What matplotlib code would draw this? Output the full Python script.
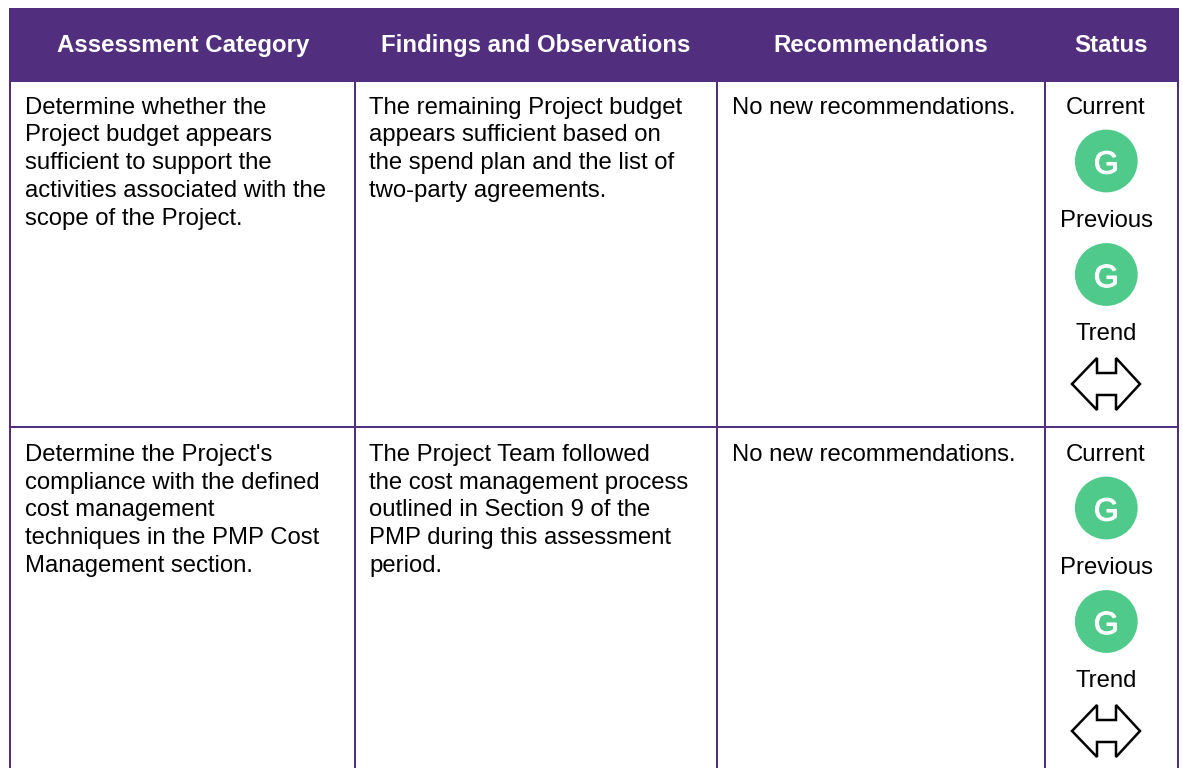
import matplotlib
matplotlib.use('Agg')
import matplotlib.pyplot as plt
import matplotlib.patheffects as pe
from matplotlib.patches import Rectangle, Circle, Polygon

plt.rcParams['font.family'] = ['Liberation Sans', 'DejaVu Sans']

PURPLE = '#512f7e'
GREEN = '#4fca8a'

headers = ['Assessment Category', 'Findings and Observations', 'Recommendations', 'Status']
categories = [
    ['Determine whether the', 'Project budget appears', 'sufficient to support the',
     'activities associated with the', 'scope of the Project.'],
    ["Determine the Project's", 'compliance with the defined', 'cost management',
     'techniques in the PMP Cost', 'Management section.'],
]
findings = [
    ['The remaining Project budget', 'appears sufficient based on',
     'the spend plan and the list of', 'two-party agreements.'],
    ['The Project Team followed', 'the cost management process',
     'outlined in Section 9 of the', 'PMP during this assessment', 'period.'],
]
recommendations = ['No new recommendations.', 'No new recommendations.']
status_labels = ['Current', 'Previous', 'Trend']
current_status = ['G', 'G']
previous_status = ['G', 'G']

# pixel layout of the table
col_edges = [10, 355, 717, 1045, 1178.3]
header_centers = [183, 536, 881, 1111]
row_tops = [82, 429]
text_x = [25, 369, 732]
status_x = 1106
line_h = 27.8
body_size = 17.2
line_w = 1.44


def draw_arrow(ax, top):
    # double headed outline arrow, offsets from the cell top
    pts = [(1072, 302), (1097, 276), (1097, 291), (1116, 291), (1116, 276), (1140, 302),
           (1116, 328), (1116, 313), (1097, 313), (1097, 328)]
    pts = [(x, y + top) for x, y in pts]
    ax.add_patch(Polygon(pts, closed=True, fc='white', ec='black', lw=1.8, joinstyle='miter'))


def draw_badge(ax, y, letter):
    ax.add_patch(Circle((status_x + 0.3, y), 31.4, fc=GREEN, ec='none'))
    t = ax.text(status_x + 0.3, y + 12.5, letter, color='white', fontsize=23, ha='center',
                va='baseline')
    # the regular G is too thin on its own
    t.set_path_effects([pe.withStroke(linewidth=0.8, foreground='white')])


fig = plt.figure(figsize=(11.82, 7.68), dpi=100)
ax = fig.add_axes([0, 0, 1, 1])
ax.set_xlim(0, 1182)
ax.set_ylim(768, 0)
ax.axis('off')

# grid lines
for x in col_edges:
    ax.plot([x, x], [81, 768], color=PURPLE, lw=line_w, solid_capstyle='butt')
ax.plot([9, 1179.3], [427, 427], color=PURPLE, lw=line_w, solid_capstyle='butt')

# header band
ax.add_patch(Rectangle((9, 8), 1170.3, 73.7, fc=PURPLE, ec='none'))
for x, h in zip(header_centers, headers):
    ax.text(x, 52, h, color='white', fontsize=17.3, fontweight='bold', ha='center', va='baseline')

for i, top in enumerate(row_tops):
    for j, lines in enumerate([categories[i], findings[i], [recommendations[i]]]):
        for k, line in enumerate(lines):
            ax.text(text_x[j], top + 31.7 + k * line_h, line, fontsize=body_size, color='black',
                    ha='left', va='baseline')
    ax.text(status_x, top + 31.7, status_labels[0], fontsize=body_size, ha='center', va='baseline')
    draw_badge(ax, top + 79, current_status[i])
    ax.text(status_x, top + 144.7, status_labels[1], fontsize=body_size, ha='center', va='baseline')
    draw_badge(ax, top + 192.5, previous_status[i])
    ax.text(status_x, top + 258, status_labels[2], fontsize=body_size, ha='center', va='baseline')
    draw_arrow(ax, top)

fig.savefig('out.png', dpi=100)
